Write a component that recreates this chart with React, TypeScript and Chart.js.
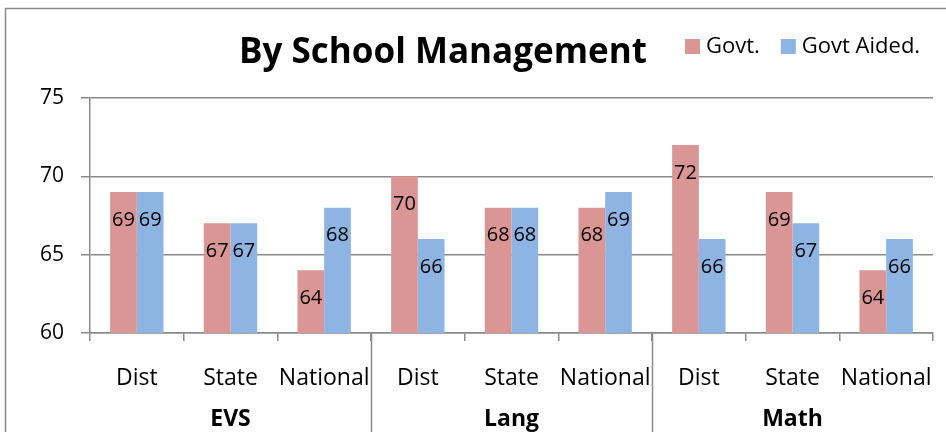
import React, { useEffect, useRef } from "react";
import { Chart, registerables } from "chart.js";

Chart.register(...registerables);

const title = "By School Management";
const groups = ["EVS", "Lang", "Math"];
const levels = ["Dist", "State", "National"];
const seriesNames = ["Govt.", "Govt Aided."];
const govt = [69, 67, 64, 70, 68, 68, 72, 69, 64];
const aided = [69, 67, 68, 66, 68, 69, 66, 67, 66];
const yTicks = [60, 65, 70, 75];

const PINK = "#D99694";
const BLUE = "#8EB4E3";
const GRAY = "#8A8A8A";
const FONT = "'Open Sans', sans-serif";

export default function App() {
  const ref = useRef<HTMLCanvasElement | null>(null);

  useEffect(() => {
    const canvas = ref.current;
    if (!canvas) return;

    const categories: string[] = [];
    groups.forEach((g) => levels.forEach((l) => categories.push(l)));

    const decor = {
      id: "decor",
      beforeDraw(chart: any) {
        const ctx = chart.ctx;
        ctx.save();
        ctx.fillStyle = "#fff";
        ctx.fillRect(0, 0, chart.width, chart.height);
        ctx.strokeStyle = GRAY;
        ctx.lineWidth = 1.5;
        ctx.strokeRect(5.5, 8.5, 1200, 1200);
        ctx.restore();
      },
      afterDraw(chart: any) {
        const ctx = chart.ctx;
        const x = chart.scales.x;
        const area = chart.chartArea;
        ctx.save();
        // title
        ctx.fillStyle = "#000";
        ctx.font = `bold 35px ${FONT}`;
        ctx.textAlign = "center";
        ctx.textBaseline = "middle";
        ctx.fillText(title, 443, 53);
        // legend
        ctx.font = `22px ${FONT}`;
        ctx.textAlign = "left";
        let lx = 685;
        chart.data.datasets.forEach((ds: any) => {
          ctx.fillStyle = ds.backgroundColor;
          ctx.fillRect(lx, 39, 15, 15);
          ctx.fillStyle = "#000";
          ctx.fillText(ds.label, lx + 21, 47);
          lx += 21 + ctx.measureText(ds.label).width + 21;
        });
        // group separators and labels
        const n = levels.length;
        ctx.strokeStyle = GRAY;
        ctx.lineWidth = 1.5;
        groups.forEach((g, gi) => {
          const first = gi * n;
          const last = first + n - 1;
          const half = (x.getPixelForValue(1) - x.getPixelForValue(0)) / 2;
          const left = x.getPixelForValue(first) - half;
          const right = x.getPixelForValue(last) + half;
          if (gi > 0) {
            ctx.beginPath();
            ctx.moveTo(Math.round(left) + 0.5, area.bottom);
            ctx.lineTo(Math.round(left) + 0.5, chart.height);
            ctx.stroke();
          }
          ctx.fillStyle = "#000";
          ctx.font = `bold 23px ${FONT}`;
          ctx.textAlign = "center";
          ctx.textBaseline = "middle";
          ctx.fillText(g, (left + right) / 2, 419);
        });
        ctx.restore();
      },
      afterDatasetsDraw(chart: any) {
        const ctx = chart.ctx;
        ctx.save();
        ctx.fillStyle = "#000";
        ctx.font = `20px ${FONT}`;
        ctx.textAlign = "center";
        ctx.textBaseline = "middle";
        chart.data.datasets.forEach((ds: any, di: number) => {
          const meta = chart.getDatasetMeta(di);
          meta.data.forEach((bar: any, i: number) => {
            ctx.fillText(String(ds.data[i]), bar.x, bar.y + 28);
          });
        });
        ctx.restore();
      },
    };

    const chart = new Chart(canvas, {
      type: "bar",
      data: {
        labels: categories,
        datasets: [
          { label: seriesNames[0], data: govt, backgroundColor: PINK, borderWidth: 0 },
          { label: seriesNames[1], data: aided, backgroundColor: BLUE, borderWidth: 0 },
        ],
      },
      options: {
        responsive: false,
        animation: false,
        devicePixelRatio: 1,
        layout: { padding: { top: 98, right: 13, bottom: 0, left: 0 } },
        datasets: { bar: { categoryPercentage: 0.57, barPercentage: 1.0 } },
        plugins: {
          legend: { display: false },
          title: { display: false },
          tooltip: { enabled: false },
        },
        scales: {
          x: {
            afterFit: (s: any) => {
              s.height = 99;
              s.paddingLeft = 0;
              s.paddingRight = 0;
            },
            grid: {
              display: true,
              drawOnChartArea: false,
              offset: true,
              tickLength: 8,
              color: GRAY,
              lineWidth: 1.5,
            },
            border: { display: true, color: GRAY, width: 1.5 },
            ticks: {
              color: "#000",
              font: { family: FONT, size: 23 },
              padding: 24,
              maxRotation: 0,
              autoSkip: false,
            },
          },
          y: {
            min: 60,
            max: 75,
            afterFit: (s: any) => {
              s.width = 90;
              s.paddingTop = 0;
              s.paddingBottom = 0;
            },
            afterBuildTicks: (s: any) => {
              s.ticks = yTicks.map((v) => ({ value: v }));
            },
            grid: {
              color: GRAY,
              lineWidth: 1.5,
              tickLength: 9,
            },
            border: { display: true, color: GRAY, width: 1.5 },
            ticks: {
              color: "#000",
              font: { family: FONT, size: 21 },
              padding: 17,
              stepSize: 5,
            },
          },
        },
      },
      plugins: [decor],
    });

    return () => chart.destroy();
  }, []);

  return (
    <div style={{ position: "absolute", left: 0, top: 0, width: 946, height: 432 }}>
      <canvas ref={ref} width={946} height={432} style={{ display: "block" }} />
    </div>
  );
}
